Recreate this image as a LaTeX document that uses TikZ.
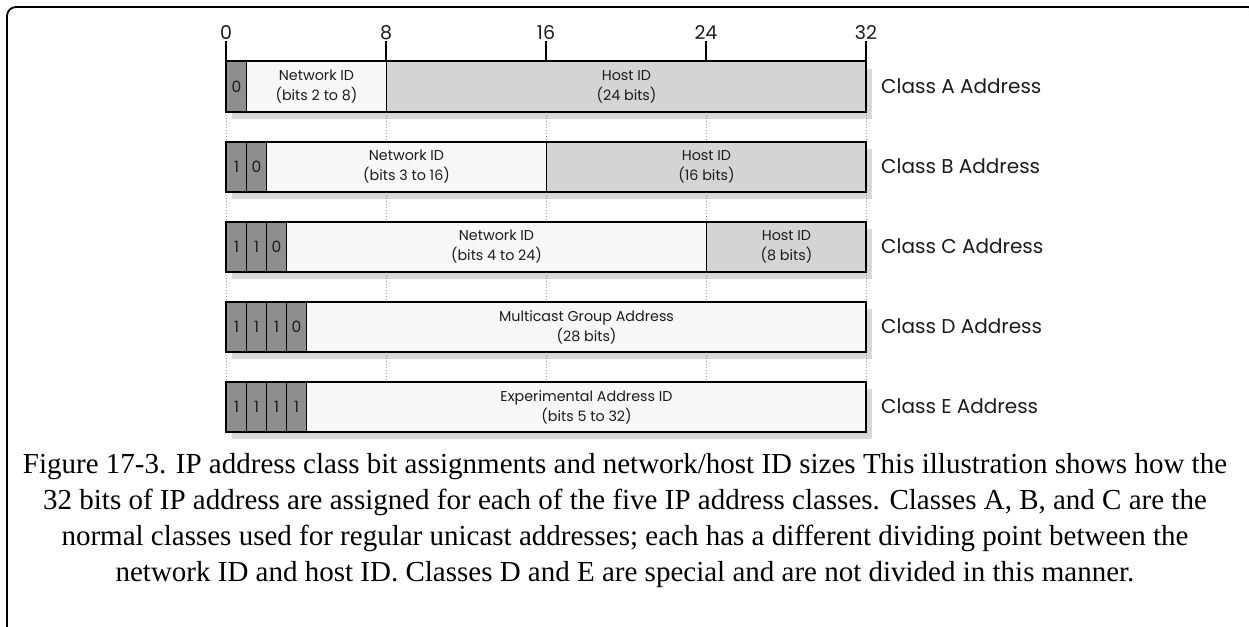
\documentclass[tikz,border=0pt]{standalone}
\usepackage{fontspec}
\setmainfont{Liberation Serif}
\newfontfamily\figfont{Poppins}
\usetikzlibrary{calc}
\definecolor{bitgray}{HTML}{8E8E8E}
\definecolor{hostgray}{HTML}{D4D4D4}
\definecolor{netwhite}{HTML}{F7F7F7}
\definecolor{shadowgray}{HTML}{D8D8D8}
\definecolor{dotgray}{HTML}{9A9A9A}
\definecolor{ink}{HTML}{1C1C1C}
\begin{document}
\begin{tikzpicture}[x=1pt,y=-1pt,
  bar/.style={inner sep=0pt, minimum width=640pt, minimum height=50pt, anchor=north west},
  field/.style={draw=black, line width=1pt, inner sep=0pt, minimum height=50pt, anchor=north west,
    align=center, text=ink, font=\figfont\fontsize{14.3}{20}\selectfont},
  bitcell/.style={field, fill=bitgray, minimum width=20pt, font=\figfont\fontsize{15.5}{17}\selectfont},
  netfield/.style={field, fill=netwhite},
  hostfield/.style={field, fill=hostgray},
  barborder/.style={draw=black, line width=2pt},
  barshadow/.style={fill=shadowgray},
  classlabel/.style={anchor=west, inner sep=0pt, text=ink, font=\figfont\fontsize{20}{24}\selectfont},
  scalenum/.style={inner sep=1pt, text=ink, font=\figfont\fontsize{19}{21}\selectfont},
  tickline/.style={draw=black, line width=1.6pt},
  dotline/.style={draw=dotgray, line width=0.9pt, dash pattern=on 1.5pt off 1.5pt},
  caption/.style={align=center, inner sep=0pt, font=\fontsize{29}{36}\selectfont},
  frameline/.style={draw=black, line width=1.8pt, rounded corners=9pt}
]
\useasboundingbox (0,0) rectangle (1249,626);
\draw[frameline] (7,640) -- (7,7) -- (1257,7) -- (1257,640);

% bars (invisible frames) and shadows
\node[bar] (barA) at (226,61.5) {};
\node[bar] (barB) at (226,141.5) {};
\node[bar] (barC) at (226,221.5) {};
\node[bar] (barD) at (226,301.5) {};
\node[bar] (barE) at (226,381.5) {};
\foreach \b in {barA,barB,barC,barD,barE}{
  \fill[barshadow] ($(\b.north west)+(6,7)$) rectangle ($(\b.south east)+(6,7)$);
}

% scale
\node[scalenum] (s0) at (226,33) {0};
\node[scalenum] (s8) at (386,33) {8};
\node[scalenum] (s16) at (546,33) {16};
\node[scalenum] (s24) at (706,33) {24};
\node[scalenum] (s32) at (866,33) {32};
\foreach \s in {s0,s8,s16,s24,s32}{
  \draw[tickline] (\s.south) -- (\s.south |- barA.north);
  \draw[dotline] (\s.center |- barA.south) -- (\s.center |- barB.north);
  \draw[dotline] (\s.center |- barB.south) -- (\s.center |- barC.north);
  \draw[dotline] (\s.center |- barC.south) -- (\s.center |- barD.north);
  \draw[dotline] (\s.center |- barD.south) -- (\s.center |- barE.north);
}

% Class A
\node[bitcell] (a1) at (226,61.5) {0};
\node[netfield, minimum width=140pt] (anet) at (246,61.5) {Network ID\\(bits 2 to 8)};
\node[hostfield, minimum width=480pt] (ahost) at (386,61.5) {Host ID\\(24 bits)};
\draw[barborder] (barA.north west) rectangle (barA.south east);
\node[classlabel] (lblA) at (881,86.5) {Class A Address};

% Class B
\node[bitcell] (b1) at (226,141.5) {1};
\node[bitcell] (b2) at (246,141.5) {0};
\node[netfield, minimum width=280pt] (bnet) at (266,141.5) {Network ID\\(bits 3 to 16)};
\node[hostfield, minimum width=320pt] (bhost) at (546,141.5) {Host ID\\(16 bits)};
\draw[barborder] (barB.north west) rectangle (barB.south east);
\node[classlabel] (lblB) at (881,166.5) {Class B Address};

% Class C
\node[bitcell] (c1) at (226,221.5) {1};
\node[bitcell] (c2) at (246,221.5) {1};
\node[bitcell] (c3) at (266,221.5) {0};
\node[netfield, minimum width=420pt] (cnet) at (286,221.5) {Network ID\\(bits 4 to 24)};
\node[hostfield, minimum width=160pt] (chost) at (706,221.5) {Host ID\\(8 bits)};
\draw[barborder] (barC.north west) rectangle (barC.south east);
\node[classlabel] (lblC) at (881,246.5) {Class C Address};

% Class D
\node[bitcell] (d1) at (226,301.5) {1};
\node[bitcell] (d2) at (246,301.5) {1};
\node[bitcell] (d3) at (266,301.5) {1};
\node[bitcell] (d4) at (286,301.5) {0};
\node[netfield, minimum width=560pt] (dnet) at (306,301.5) {Multicast Group Address\\(28 bits)};
\draw[barborder] (barD.north west) rectangle (barD.south east);
\node[classlabel] (lblD) at (881,326.5) {Class D Address};

% Class E
\node[bitcell] (e1) at (226,381.5) {1};
\node[bitcell] (e2) at (246,381.5) {1};
\node[bitcell] (e3) at (266,381.5) {1};
\node[bitcell] (e4) at (286,381.5) {1};
\node[netfield, minimum width=560pt] (enet) at (306,381.5) {Experimental Address ID\\(bits 5 to 32)};
\draw[barborder] (barE.north west) rectangle (barE.south east);
\node[classlabel] (lblE) at (881,406.5) {Class E Address};

% caption
\node[caption] (cap) at (625,521) {Figure 17-3. IP address class bit assignments and network/host ID sizes This illustration shows how the\\
32 bits of IP address are assigned for each of the five IP address classes. Classes A, B, and C are the\\
normal classes used for regular unicast addresses; each has a different dividing point between the\\
network ID and host ID. Classes D and E are special and are not divided in this manner.};
\end{tikzpicture}
\end{document}
